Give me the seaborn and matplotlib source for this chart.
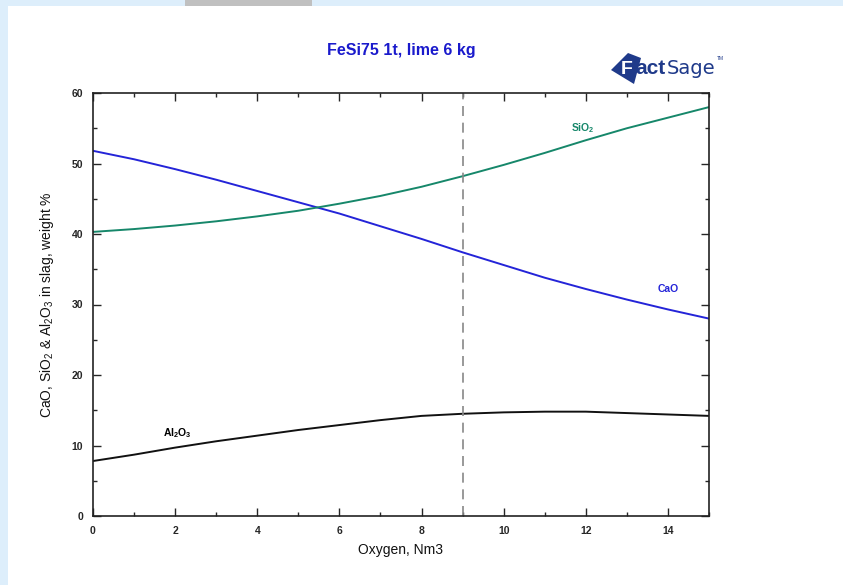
import numpy as np
import pandas as pd
import seaborn as sns
import matplotlib.pyplot as plt
from matplotlib.patches import Rectangle, Polygon
from matplotlib.ticker import MultipleLocator

oxygen = [0, 1, 2, 3, 4, 5, 6, 7, 8, 9, 10, 11, 12, 13, 14, 15]
cao = [51.8, 50.6, 49.2, 47.7, 46.1, 44.5, 42.9, 41.1, 39.3, 37.4, 35.6, 33.8, 32.2, 30.7, 29.3, 28.0]
sio2 = [40.3, 40.7, 41.2, 41.8, 42.5, 43.3, 44.3, 45.4, 46.7, 48.2, 49.8, 51.5, 53.3, 55.0, 56.5, 58.0]
al2o3 = [7.8, 8.7, 9.7, 10.6, 11.4, 12.2, 12.9, 13.6, 14.2, 14.5, 14.7, 14.8, 14.8, 14.6, 14.4, 14.2]
marker_x = 9

sns.set_style("ticks")
plt.rcParams['font.family'] = ['Liberation Sans', 'DejaVu Sans']
plt.rcParams['mathtext.default'] = 'regular'

df = pd.DataFrame({"oxygen": oxygen * 3,
                   "pct": cao + sio2 + al2o3,
                   "oxide": ["CaO"] * 16 + ["SiO2"] * 16 + ["Al2O3"] * 16})
colors = {"CaO": "#2424d8", "SiO2": "#16876a", "Al2O3": "#111111"}

W, H = 843, 585
fig = plt.figure(figsize=(8.43, 5.85), dpi=100)
fig.patch.set_facecolor("#ddeefb")


def px(x, y):
    # pixel coords (from top-left) -> figure fraction
    return x / W, 1 - y / H


# white page panel + grey tab on the top border
fig.add_artist(Rectangle((8/W, 0), 1, 1 - 6/H, transform=fig.transFigure,
                         facecolor="white", edgecolor="none", zorder=0))
fig.add_artist(Rectangle((185/W, 1 - 6/H), 127/W, 6/H, transform=fig.transFigure,
                         facecolor="#c0c0c0", edgecolor="none", zorder=0))

ax = fig.add_axes([93/W, 69/H, 616/W, 423/H])
ax.set_facecolor("white")
sns.lineplot(data=df, x="oxygen", y="pct", hue="oxide", palette=colors,
             linewidth=1.4, legend=False, ax=ax)
ax.axvline(marker_x, color="#888888", linestyle=(0, (6, 4)), linewidth=1.2)

ax.set_xlim(0, 15)
ax.set_ylim(0, 60)
ax.xaxis.set_major_locator(MultipleLocator(2))
ax.xaxis.set_minor_locator(MultipleLocator(1))
ax.yaxis.set_major_locator(MultipleLocator(10))
ax.yaxis.set_minor_locator(MultipleLocator(5))
ax.tick_params(which="both", direction="in", top=True, right=True, width=1)
ax.tick_params(which="major", length=6, labelsize=7.5, pad=7)
ax.tick_params(which="minor", length=3)
for lab in ax.get_xticklabels() + ax.get_yticklabels():
    lab.set_fontweight("bold")
for s in ax.spines.values():
    s.set_linewidth(1.2)
    s.set_color("#222222")

ax.set_xlabel("Oxygen, Nm3", fontsize=10, labelpad=5, color="#111111")
ax.set_ylabel("CaO, SiO$_2$ & Al$_2$O$_3$ in slag, weight %", fontsize=10, labelpad=11,
              color="#111111")

ax.text(11.93, 55.0, "SiO$_2$", fontsize=7.5, fontweight="bold", color=colors["SiO2"], ha="center", va="center")
ax.text(14.0, 32.2, "CaO", fontsize=7.5, fontweight="bold", color=colors["CaO"], ha="center", va="center")
ax.text(2.05, 11.8, "Al$_2$O$_3$", fontsize=7.5, fontweight="bold", color="black", ha="center", va="center")

fig.text(*px(401, 50), "FeSi75 1t, lime 6 kg", fontsize=11.5, fontweight="bold",
         color="#1a1acc", ha="center", va="center")

# FactSage logo
logo_blue = "#1f3a8a"
fig.add_artist(Polygon([px(611, 70), px(628, 53), px(641, 58), px(634, 84)], closed=True,
                       transform=fig.transFigure, facecolor=logo_blue, edgecolor="none"))
renderer = fig.canvas.get_renderer()
x0 = 621
for txt, col, wt, fam, fs, gap in [("F", "white", "heavy", "Liberation Sans", 14, 3),
                                   ("act", logo_blue, "heavy", "Liberation Sans", 15, 1),
                                   ("Sage", logo_blue, "normal", "Liberation Sans Narrow", 14, 1.5)]:
    t = fig.text(*px(x0, 69), txt, fontsize=fs, fontweight=wt, color=col,
                 ha="left", va="center", family=fam)
    x0 = t.get_window_extent(renderer).x1 + gap
fig.text(*px(x0, 58), "TM", fontsize=3.5, color=logo_blue, ha="left", va="center")

fig.savefig("out.png", dpi=100, facecolor=fig.get_facecolor())
